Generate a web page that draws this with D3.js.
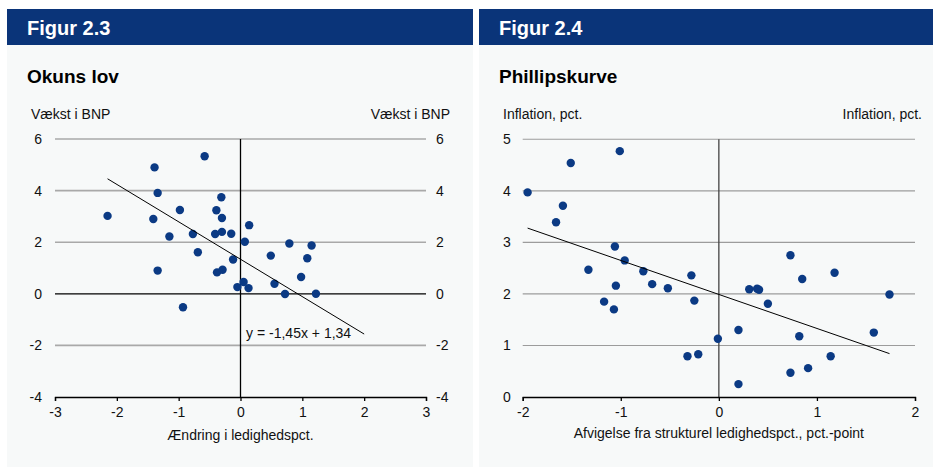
<!DOCTYPE html>
<html><head><meta charset="utf-8">
<script src="https://cdn.jsdelivr.net/npm/d3@7"></script>
<style>
html,body{margin:0;padding:0;background:#fff;}
svg{display:block;font-family:"Liberation Sans",Arial,sans-serif;}
</style></head>
<body>
<svg id="c" width="933" height="468"></svg>
<script>
// ---- Figur 2.3: Okuns lov ----
const okunX = [-2.15,-1.39,-1.34,-1.41,-1.34,-1.15,-0.98,-0.77,-0.69,-0.93,-0.58,-0.31,-0.39,-0.30,-0.41,-0.30,-0.15,-0.12,-0.38,-0.29,-0.05,
  0.14,0.07,0.05,0.13,0.79,1.15,0.49,1.08,0.98,0.55,0.72,1.22];
const okunY = [3.02,4.90,3.91,2.90,0.90,2.22,3.25,2.32,1.61,-0.52,5.33,3.74,3.24,2.94,2.32,2.40,2.33,1.33,0.83,0.93,0.26,
  2.66,2.02,0.46,0.22,1.95,1.87,1.48,1.38,0.65,0.39,-0.01,0.00];
const okunSlope = -1.45, okunIntercept = 1.34;
const okunTrendX = [-2.15, 2];
const okunXTicks = [-3,-2,-1,0,1,2,3];
const okunYTicks = [-4,-2,0,2,4,6];
const okunEquation = "y = -1,45x + 1,34";

// ---- Figur 2.4: Phillipskurve ----
const phillipsX = [-1.95,-1.51,-1.01,-1.59,-1.66,-1.06,-0.96,-1.33,-0.77,-0.68,-0.52,-1.05,-1.17,-1.07,-0.28,-0.25,-0.32,-0.21,-0.01,
  0.20,0.20,0.31,0.39,0.41,0.50,0.73,0.85,1.18,1.74,0.82,1.58,1.14,0.73,0.91];
const phillipsY = [3.97,4.54,4.77,3.71,3.39,2.92,2.65,2.47,2.44,2.19,2.11,2.16,1.85,1.70,2.36,1.87,0.79,0.83,1.13,
  1.30,0.25,2.09,2.10,2.08,1.81,2.75,2.29,2.41,1.99,1.18,1.25,0.79,0.47,0.56];
const phillipsSlope = -0.66, phillipsIntercept = 1.99;
const phillipsTrendX = [-1.95, 1.74];
const phillipsXTicks = [-2,-1,0,1,2];
const phillipsYTicks = [0,1,2,3,4,5];

const svg = d3.select("#c");
const NAVY = "#0a3479";
const DOT = "#0b3a84";
const BG = "#f7f9f9";
const fmt = d => String(d);

function panel(o){
  const g = svg.append("g");
  g.append("rect").attr("x",o.px).attr("y",9).attr("width",o.pw).attr("height",458).attr("fill",BG);
  g.append("rect").attr("x",o.px).attr("y",9).attr("width",o.pw).attr("height",36).attr("fill",NAVY);
  g.append("text").attr("x",o.tx).attr("y",35).attr("fill","#fff").attr("font-size",20).attr("font-weight","bold").text(o.fig);
  g.append("text").attr("x",o.tx).attr("y",83).attr("fill","#000").attr("font-size",19).attr("font-weight","bold").text(o.title);

  const x = d3.scaleLinear().domain(o.xd).range(o.xr);
  const y = d3.scaleLinear().domain(o.yd).range(o.yr);

  // grid lines
  g.append("g").selectAll("line").data(o.yTicks.filter(v=>v!==o.yd[0] && v!==0)).join("line")
    .attr("x1",o.xr[0]).attr("x2",o.xr[1]).attr("y1",d=>y(d)).attr("y2",d=>y(d))
    .attr("stroke",o.gridColor).attr("stroke-width",o.gridW);
  // zero line
  if (o.yd[0] !== 0) {
    g.append("line").attr("x1",o.xr[0]).attr("x2",o.xr[1]).attr("y1",y(0)).attr("y2",y(0))
      .attr("stroke","#000").attr("stroke-width",1.3);
  }
  // vertical zero line
  g.append("line").attr("x1",x(0)).attr("x2",x(0)).attr("y1",y(o.yd[1])).attr("y2",y(o.yd[0]))
    .attr("stroke",o.vColor).attr("stroke-width",1.3);

  // x axis
  const xa = g.append("g").attr("transform",`translate(0,${y(o.yd[0])})`)
    .call(d3.axisBottom(x).tickValues(o.xTicks).tickSize(4).tickPadding(6).tickFormat(fmt));
  xa.select(".domain").attr("stroke","#000").attr("stroke-width",1.3);
  xa.selectAll(".tick line").attr("stroke","#000").attr("stroke-width",1.3);
  xa.selectAll("text").attr("font-size",14).attr("fill","#111").attr("font-family","Liberation Sans, Arial, sans-serif");

  // y axis labels left
  const yl = g.append("g").attr("transform",`translate(${o.xr[0]},0)`)
    .call(d3.axisLeft(y).tickValues(o.yTicks).tickSize(0).tickPadding(o.ylPad).tickFormat(fmt));
  yl.select(".domain").remove();
  yl.selectAll("text").attr("font-size",14).attr("fill","#111").attr("font-family","Liberation Sans, Arial, sans-serif");
  if (o.rightLabels) {
    const yr = g.append("g").attr("transform",`translate(${o.xr[1]},0)`)
      .call(d3.axisRight(y).tickValues(o.yTicks).tickSize(0).tickPadding(10).tickFormat(fmt));
    yr.select(".domain").remove();
    yr.selectAll("text").attr("font-size",14).attr("fill","#111").attr("font-family","Liberation Sans, Arial, sans-serif");
  }

  // unit labels
  g.append("text").attr("x",o.ulx).attr("y",119).attr("font-size",14).attr("fill","#111").text(o.unit);
  g.append("text").attr("x",o.urx).attr("y",119).attr("font-size",14).attr("fill","#111").attr("text-anchor","end").text(o.unit);
  // x title
  g.append("text").attr("x",(x(0))).attr("y",o.xtY).attr("font-size",14).attr("fill","#111").attr("text-anchor","middle").text(o.xTitle);

  // dots
  g.append("g").selectAll("circle").data(o.xs.map((v,i)=>[v,o.ys[i]])).join("circle")
    .attr("cx",d=>x(d[0])).attr("cy",d=>y(d[1])).attr("r",4.2).attr("fill",DOT);

  // trend line
  g.append("line")
    .attr("x1",x(o.trendX[0])).attr("y1",y(o.slope*o.trendX[0]+o.intercept))
    .attr("x2",x(o.trendX[1])).attr("y2",y(o.slope*o.trendX[1]+o.intercept))
    .attr("stroke","#000").attr("stroke-width",1);
  if (o.eq) {
    g.append("text").attr("x",x(0.09)).attr("y",y(-1.7)).attr("font-size",14).attr("fill","#111").text(o.eq);
  }
}

panel({px:7,pw:466,tx:27,fig:"Figur 2.3",title:"Okuns lov",
  xd:[-3,3],xr:[55,426],yd:[-4,6],yr:[397,139],
  xTicks:okunXTicks,yTicks:okunYTicks,gridColor:"#a9a9a9",gridW:1.6,vColor:"#000",
  ylPad:13,rightLabels:true,unit:"Vækst i BNP",ulx:31,urx:450,
  xTitle:"Ændring i ledighedspct.",xtY:440,
  xs:okunX,ys:okunY,slope:okunSlope,intercept:okunIntercept,trendX:okunTrendX,eq:okunEquation});

panel({px:479,pw:454,tx:499,fig:"Figur 2.4",title:"Phillipskurve",
  xd:[-2,2],xr:[522.7,915],yd:[0,5],yr:[397,139.3],
  xTicks:phillipsXTicks,yTicks:phillipsYTicks,gridColor:"#9c9c9c",gridW:1.1,vColor:"#444",
  ylPad:12,rightLabels:false,unit:"Inflation, pct.",ulx:503,urx:922,
  xTitle:"Afvigelse fra strukturel ledighedspct., pct.-point",xtY:438,
  xs:phillipsX,ys:phillipsY,slope:phillipsSlope,intercept:phillipsIntercept,trendX:phillipsTrendX,eq:null});
</script>
</body></html>
